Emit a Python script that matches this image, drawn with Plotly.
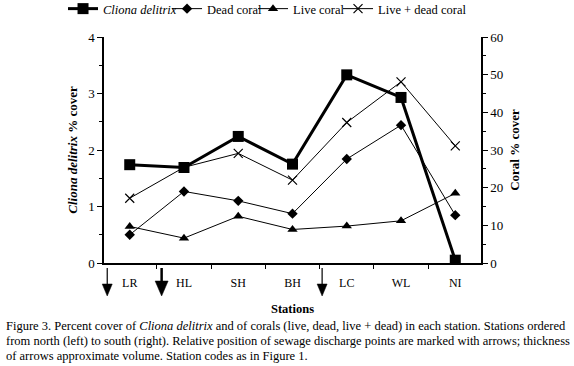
import plotly.graph_objects as go

stations = ["LR", "HL", "SH", "BH", "LC", "WL", "NI"]
cliona = [1.74, 1.69, 2.24, 1.75, 3.33, 2.93, 0.05]
dead_coral = [7.5, 19.0, 16.5, 13.1, 27.6, 36.6, 12.7]
live_coral = [9.7, 6.6, 12.4, 8.9, 9.8, 11.2, 18.5]
live_dead = [17.2, 25.4, 29.1, 22.0, 37.3, 48.1, 31.1]

# sewage discharge points: position in station units, relative volume
sewage_pos = [-0.44, 0.57, 3.55]
sewage_vol = [1, 2, 1]

caption_lines = [
    "Figure 3. Percent cover of <i>Cliona delitrix</i> and of corals (live, dead, live + dead) in each station. Stations ordered",
    "from north (left) to south (right). Relative position of sewage discharge points are marked with arrows; thickness",
    "of arrows approximate volume. Station codes as in Figure 1.",
]

# legend entry origins (fraction of figure width)
legend_x = [0.1098, 0.291, 0.4408, 0.5889]

FONT = "Liberation Serif, Times New Roman, serif"
L, R, T, B = 104, 481, 37, 263
W, H = 574, 366

fig = go.Figure()
fig.add_trace(go.Scatter(x=stations, y=cliona, name="<i>Cliona delitrix</i>", mode="lines+markers",
                         line=dict(color="black", width=3), marker=dict(symbol="square", size=11, color="black"),
                         yaxis="y", legend="legend"))
fig.add_trace(go.Scatter(x=stations, y=dead_coral, name="Dead coral", mode="lines+markers",
                         line=dict(color="black", width=1), marker=dict(symbol="diamond", size=8, color="black"),
                         yaxis="y2", legend="legend2"))
fig.add_trace(go.Scatter(x=stations, y=live_coral, name="Live coral", mode="lines+markers",
                         line=dict(color="black", width=1), marker=dict(symbol="triangle-up", size=9, color="black"),
                         yaxis="y2", legend="legend3"))
fig.add_trace(go.Scatter(x=stations, y=live_dead, name="Live + dead coral", mode="lines+markers",
                         line=dict(color="black", width=1),
                         marker=dict(symbol="x-thin", size=9, color="black", line=dict(color="black", width=1.2)),
                         yaxis="y2", legend="legend4"))

shapes = []
def px(xp):
    return (xp - L) / (R - L)
def py(yp):
    return (B - yp) / (B - T)

for pos, vol in zip(sewage_pos, sewage_vol):
    xc = (pos + 0.5) / len(stations)
    xpix = L + xc * (R - L)
    if vol == 2:
        shaft_w, head_hw, head_top, color = 2.5, 6.5, 281, "black"
    else:
        shaft_w, head_hw, head_top, color = 1.2, 5, 284, "black"
    shapes.append(dict(type="line", xref="paper", yref="paper", x0=xc, x1=xc, y0=py(268), y1=py(head_top + 1),
                       line=dict(color=color, width=shaft_w)))
    shapes.append(dict(type="path", xref="paper", yref="paper",
                       path=f"M {px(xpix-head_hw)},{py(head_top)} L {px(xpix+head_hw)},{py(head_top)} L {xc},{py(296)} Z",
                       fillcolor="black", line=dict(color="black", width=0.5)))

annotations = []
for i, line in enumerate(caption_lines):
    annotations.append(dict(text=line, xref="paper", yref="paper", x=px(4), y=py(326 + 15 * i),
                            xanchor="left", yanchor="middle", align="left", showarrow=False,
                            font=dict(size=12.5, family=FONT)))

legends = {}
for i, lx in enumerate(legend_x):
    key = "legend" if i == 0 else f"legend{i+1}"
    legends[key] = dict(orientation="h", x=lx, xanchor="left", xref="container", y=1 - 9 / H, yanchor="middle",
                        yref="container", font=dict(size=12.5, family=FONT), itemwidth=30,
                        bgcolor="rgba(0,0,0,0)")

n = len(stations)
fig.update_layout(
    width=W, height=H,
    margin=dict(l=L, r=W - R, t=T, b=H - B, autoexpand=False),
    paper_bgcolor="white", plot_bgcolor="white",
    font=dict(family=FONT, size=13, color="black"),
    showlegend=True,
    **legends,
    xaxis=dict(type="category", showline=True, linecolor="black", linewidth=1.5, ticks="outside", ticklen=4,
               tickson="boundaries", tickcolor="black", showgrid=False, zeroline=False,
               tickfont=dict(size=12, family=FONT), ticklabelstandoff=8,
               title=dict(text="<b>Stations</b>", font=dict(size=12.5), standoff=15), mirror=False),
    xaxis2=dict(overlaying="x", anchor="y", range=[-0.5, n - 0.5], tick0=-0.5, dtick=1, ticks="inside",
                ticklen=4, tickcolor="black", showticklabels=False, showline=False, showgrid=False,
                zeroline=False, side="bottom"),
    yaxis=dict(range=[0, 4], dtick=1, showline=True, linecolor="black", linewidth=1.5, ticks="outside",
               ticklen=5, tickcolor="black", showgrid=False, zeroline=False,
               minor=dict(dtick=0.5, ticks="outside", ticklen=3, tickcolor="black"),
               title=dict(text="<b><i>Cliona delitrix</i> % cover</b>", font=dict(size=13), standoff=8),
               tickfont=dict(size=13)),
    yaxis3=dict(range=[0, 4], dtick=1, overlaying="y", anchor="x", side="left", ticks="inside", ticklen=5,
                tickcolor="black", showticklabels=False, showline=False, showgrid=False, zeroline=False),
    yaxis2=dict(range=[0, 60], dtick=10, overlaying="y", side="right", showline=True, linecolor="black",
                linewidth=1.5, ticks="outside", ticklen=5, tickcolor="black", showgrid=False, zeroline=False,
                minor=dict(dtick=5, ticks="outside", ticklen=3, tickcolor="black"),
                title=dict(text="<b>Coral % cover</b>", font=dict(size=13), standoff=8),
                tickfont=dict(size=13)),
    yaxis4=dict(range=[0, 60], dtick=10, overlaying="y", anchor="x", side="right", ticks="inside", ticklen=5,
                tickcolor="black", showticklabels=False, showline=False, showgrid=False, zeroline=False),
    shapes=shapes,
    annotations=annotations,
)

fig.write_html("out.html", post_script="document.body.style.margin='0';",
               config={"displayModeBar": False})
